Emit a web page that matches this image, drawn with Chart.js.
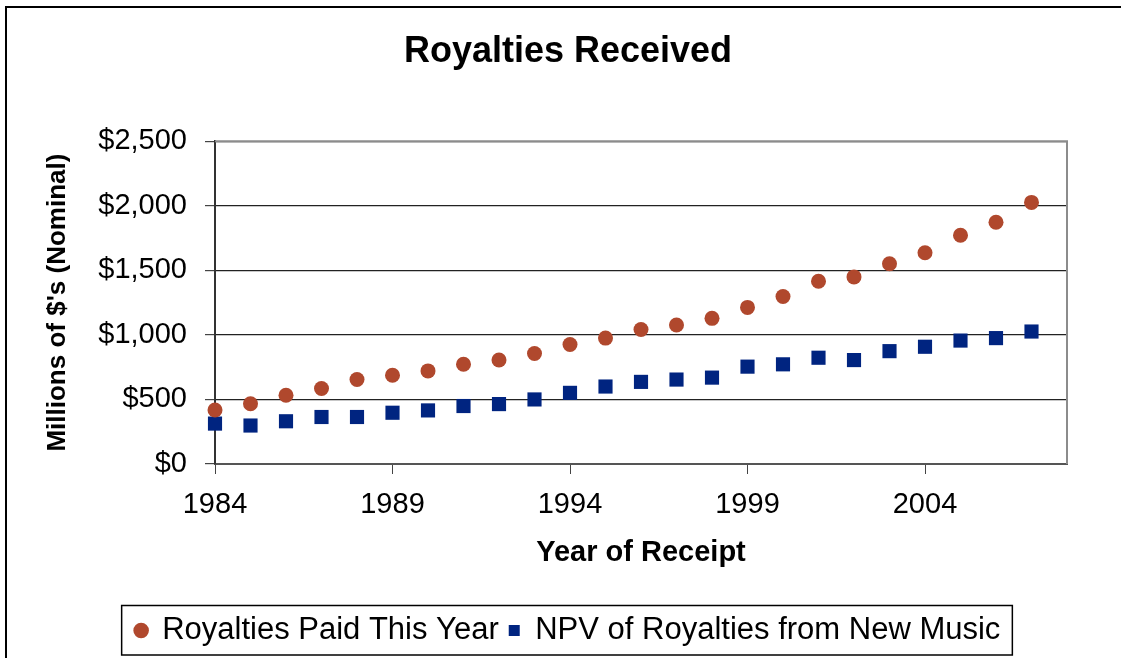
<!DOCTYPE html>
<html>
<head>
<meta charset="utf-8">
<script src="https://cdn.jsdelivr.net/npm/chart.js@4/dist/chart.umd.min.js"></script>
<style>
  html, body { margin: 0; padding: 0; background: #fff; }
  #wrap { width: 1121px; height: 658px; }
</style>
</head>
<body>
<div id="wrap"><canvas id="royaltiesChart" width="1121" height="658"></canvas></div>
<script>
// Data
const years = [1984, 1985, 1986, 1987, 1988, 1989, 1990, 1991, 1992, 1993, 1994, 1995,
  1996, 1997, 1998, 1999, 2000, 2001, 2002, 2003, 2004, 2005, 2006, 2007];
const royaltiesPaid = [418, 467, 533, 585, 654, 687, 721, 772, 805, 856, 925, 975,
  1042, 1077, 1128, 1213, 1297, 1415, 1449, 1551, 1636, 1772, 1872, 2026];
const npvRoyalties = [313, 298, 331, 364, 364, 397, 415, 449, 464, 500, 551, 600,
  636, 654, 669, 754, 772, 823, 805, 874, 908, 956, 975, 1026];
const yearTicks = [1984, 1989, 1994, 1999, 2004];

const RED = "#b0482d";
const BLUE = "#002480";
const FONT = "'Liberation Sans', Arial, sans-serif";

const toPoints = (values) => values.map((v, i) => ({ x: years[i], y: v }));

/**
 * Outer frame, grey top/right plot edges and the legend box
 */
const framePlugin = {
  id: "frame",
  beforeDraw(chart) {
    const { ctx } = chart;
    ctx.save();
    ctx.strokeStyle = "#000";
    ctx.lineWidth = 2;
    ctx.beginPath();
    ctx.moveTo(6, 658);
    ctx.lineTo(6, 7);
    ctx.lineTo(1121, 7);
    ctx.stroke();
    ctx.restore();
  },
  beforeDatasetsDraw(chart) {
    const { ctx, chartArea } = chart;
    ctx.save();
    ctx.strokeStyle = "#8c8c8c";
    ctx.lineWidth = 2;
    ctx.beginPath();
    ctx.moveTo(chartArea.left, chartArea.top);
    ctx.lineTo(chartArea.right, chartArea.top);
    ctx.lineTo(chartArea.right, chartArea.bottom);
    ctx.stroke();
    ctx.restore();
  },
  afterDraw(chart) {
    const boxes = chart.legend && chart.legend.legendHitBoxes;
    if (!boxes || !boxes.length) return;
    const first = boxes[0];
    const last = boxes[boxes.length - 1];
    const { ctx } = chart;
    ctx.save();
    ctx.strokeStyle = "#000";
    ctx.lineWidth = 1.5;
    const left = first.left - 14;
    const right = last.left + last.width + 12;
    ctx.strokeRect(left, chart.legend.top + 0.5, right - left, chart.legend.height - 1.5);
    ctx.restore();
  },
};

const ctx = document.getElementById("royaltiesChart").getContext("2d");

new Chart(ctx, {
  type: "scatter",
  data: {
    datasets: [
      {
        label: "Royalties Paid This Year",
        data: toPoints(royaltiesPaid),
        pointStyle: "circle",
        pointRadius: 7.5,
        pointHoverRadius: 7.5,
        backgroundColor: RED,
        borderColor: RED,
        borderWidth: 0,
        clip: false,
      },
      {
        label: "NPV of Royalties from New Music",
        data: toPoints(npvRoyalties),
        pointStyle: "rect",
        pointRadius: 10,
        pointHoverRadius: 10,
        backgroundColor: BLUE,
        borderColor: BLUE,
        borderWidth: 0,
        clip: false,
      },
    ],
  },
  options: {
    responsive: false,
    animation: false,
    layout: {
      padding: { left: 30, right: 15, top: 0, bottom: 2 },
    },
    plugins: {
      title: {
        display: true,
        text: "Royalties Received",
        color: "#000",
        font: { family: FONT, size: 36, weight: "bold" },
        padding: { top: 30, bottom: 68 },
      },
      legend: {
        position: "bottom",
        labels: {
          usePointStyle: true,
          boxHeight: 11,
          boxWidth: 11,
          padding: 10,
          color: "#000",
          font: { family: FONT, size: 31 },
        },
      },
      tooltip: { enabled: false },
    },
    scales: {
      x: {
        type: "linear",
        position: "bottom",
        min: 1984,
        max: 2008,
        afterBuildTicks: (scale) => {
          scale.ticks = yearTicks.map((v) => ({ value: v }));
        },
        afterFit: (scale) => {
          scale.height = 141;
        },
        ticks: {
          autoSkip: false,
          maxRotation: 0,
          padding: 14,
          color: "#000",
          font: { family: FONT, size: 29 },
          callback: (v) => String(v),
        },
        grid: {
          drawOnChartArea: false,
          drawTicks: true,
          tickLength: 10,
          tickColor: "#444",
        },
        border: { display: true, color: "#555", width: 2 },
        title: {
          display: true,
          text: "Year of Receipt",
          color: "#000",
          font: { family: FONT, size: 29, weight: "bold" },
          padding: { top: 0, bottom: 35 },
        },
      },
      y: {
        position: "left",
        min: 0,
        max: 2500,
        afterFit: (scale) => {
          scale.width = 185;
        },
        ticks: {
          stepSize: 500,
          padding: 18,
          color: "#000",
          font: { family: FONT, size: 29 },
          callback: (v) => "$" + v.toLocaleString("en-US"),
        },
        grid: {
          color: "#222",
          lineWidth: 1.2,
          drawTicks: true,
          tickLength: 10,
          tickColor: "#444",
        },
        border: { display: true, color: "#333", width: 2 },
        title: {
          display: true,
          text: "Millions of $'s (Nominal)",
          color: "#000",
          font: { family: FONT, size: 26, weight: "bold" },
          padding: { top: 12, bottom: 0 },
        },
      },
      yRight: {
        position: "right",
        display: true,
        afterFit: (scale) => {
          scale.width = 39;
        },
        ticks: { display: false },
        grid: { drawOnChartArea: false, drawTicks: false },
        border: { display: false },
      },
    },
  },
  plugins: [framePlugin],
});
</script>
</body>
</html>
